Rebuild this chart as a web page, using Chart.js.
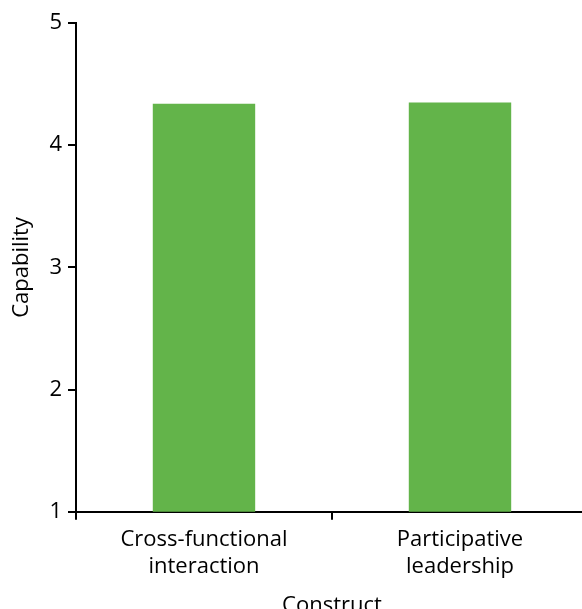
<!DOCTYPE html>
<html><head><meta charset="utf-8">
<script src="https://cdn.jsdelivr.net/npm/chart.js@4/dist/chart.umd.min.js"></script>
<style>
html,body{margin:0;padding:0;background:#fff;overflow:hidden;}
#wrap{width:582px;height:609px;overflow:hidden;position:relative;}
#box{width:588px;height:619px;position:absolute;left:0;top:0;}
</style></head><body>
<div id="wrap"><div id="box"><canvas id="c"></canvas></div></div>
<script>
const categories = [["Cross-functional","interaction"],["Participative","leadership"]];
const capability = [4.34, 4.35];
const yTicks = [1,2,3,4,5];
const xTitle = "Construct";
const yTitle = "Capability";

const font = {family:"'Open Sans', 'Noto Sans', sans-serif", size:22};
new Chart(document.getElementById('c'), {
  type:'bar',
  data:{labels:categories, datasets:[{data:capability, backgroundColor:'#63b44a', borderWidth:0, categoryPercentage:1, barPercentage:0.4}]},
  options:{
    responsive:true, maintainAspectRatio:false, animation:false,
    layout:{padding:{top:23,left:9,right:0,bottom:0}},
    plugins:{legend:{display:false}, tooltip:{enabled:false}},
    scales:{
      x:{
        offset:true,
        border:{display:true,color:'#000',width:2},
        grid:{display:true, offset:true, drawOnChartArea:false, tickLength:8, color:'#000', lineWidth:2},
        ticks:{color:'#000', font:font, padding:7, maxRotation:0},
        title:{display:true, text:xTitle, color:'#000', font:font, padding:{top:6,bottom:0}}
      },
      y:{
        min:1, max:5,
        afterBuildTicks:(s)=>{s.ticks = yTicks.map(v=>({value:v}));},
        border:{display:true,color:'#000',width:2},
        grid:{display:true, drawOnChartArea:false, tickLength:8, color:'#000', lineWidth:2},
        ticks:{color:'#000', font:font, padding:6},
        title:{display:true, text:yTitle, color:'#000', font:font, padding:{top:0,bottom:8}}
      }
    }
  }
});
</script></body></html>
